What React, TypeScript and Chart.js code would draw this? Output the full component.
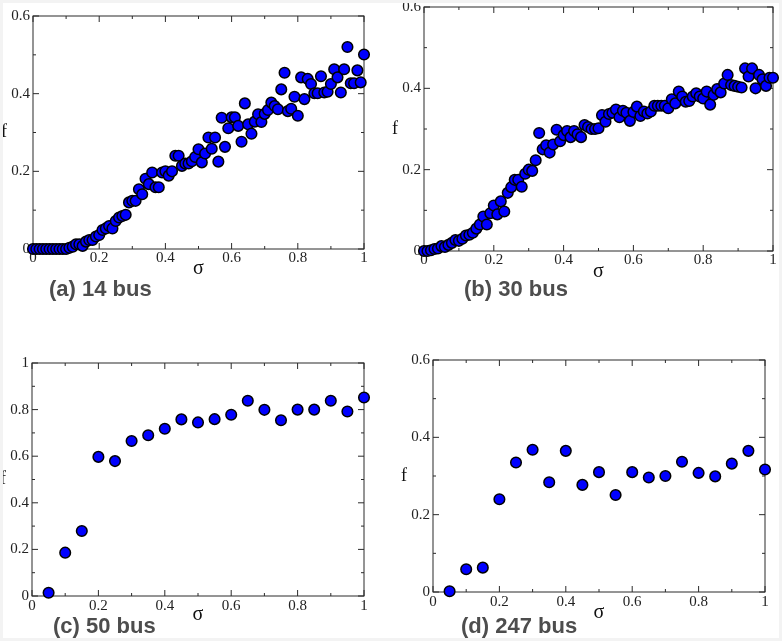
import React, { useEffect, useRef } from "react";
import { Chart, registerables } from "chart.js";

Chart.register(...registerables);

// ---------- data ----------
const SIGMA_FINE = [
  0, 0.01, 0.02, 0.03, 0.04, 0.05, 0.06, 0.07, 0.08, 0.09,
  0.1, 0.11, 0.12, 0.13, 0.14, 0.15, 0.16, 0.17, 0.18, 0.19,
  0.2, 0.21, 0.22, 0.23, 0.24, 0.25, 0.26, 0.27, 0.28, 0.29,
  0.3, 0.31, 0.32, 0.33, 0.34, 0.35, 0.36, 0.37, 0.38, 0.39,
  0.4, 0.41, 0.42, 0.43, 0.44, 0.45, 0.46, 0.47, 0.48, 0.49,
  0.5, 0.51, 0.52, 0.53, 0.54, 0.55, 0.56, 0.57, 0.58, 0.59,
  0.6, 0.61, 0.62, 0.63, 0.64, 0.65, 0.66, 0.67, 0.68, 0.69,
  0.7, 0.71, 0.72, 0.73, 0.74, 0.75, 0.76, 0.77, 0.78, 0.79,
  0.8, 0.81, 0.82, 0.83, 0.84, 0.85, 0.86, 0.87, 0.88, 0.89,
  0.9, 0.91, 0.92, 0.93, 0.94, 0.95, 0.96, 0.97, 0.98, 0.99,
  1,
];

const F_14BUS = [
  0, 0, 0, 0, 0, 0, 0, 0, 0, 0,
  0, 0.003, 0.006, 0.012, 0.012, 0.008, 0.019, 0.023, 0.023, 0.032,
  0.036, 0.049, 0.053, 0.059, 0.053, 0.072, 0.081, 0.085, 0.088, 0.12,
  0.124, 0.124, 0.154, 0.141, 0.181, 0.167, 0.197, 0.159, 0.159, 0.197,
  0.2, 0.189, 0.2, 0.24, 0.24, 0.214, 0.22, 0.22, 0.226, 0.237,
  0.257, 0.223, 0.246, 0.287, 0.258, 0.287, 0.225, 0.338, 0.263, 0.311,
  0.339, 0.339, 0.317, 0.276, 0.375, 0.321, 0.297, 0.328, 0.347, 0.327,
  0.348, 0.358, 0.377, 0.368, 0.36, 0.411, 0.454, 0.355, 0.361, 0.392,
  0.343, 0.442, 0.386, 0.438, 0.425, 0.401, 0.401, 0.445, 0.403, 0.405,
  0.425, 0.463, 0.442, 0.403, 0.463, 0.52, 0.427, 0.427, 0.46, 0.429,
  0.501,
];

const F_30BUS = [
  0, 0, 0.002, 0.005, 0.006, 0.012, 0.01, 0.015, 0.02, 0.027,
  0.025, 0.03, 0.038, 0.04, 0.045, 0.055, 0.065, 0.085, 0.065, 0.093,
  0.112, 0.09, 0.122, 0.097, 0.143, 0.157, 0.175, 0.175, 0.158, 0.19,
  0.2, 0.197, 0.223, 0.29, 0.25, 0.26, 0.242, 0.262, 0.298, 0.27,
  0.285, 0.295, 0.28, 0.295, 0.287, 0.28, 0.31, 0.305, 0.3, 0.3,
  0.302, 0.334, 0.318, 0.337, 0.34, 0.348, 0.329, 0.345, 0.34, 0.32,
  0.342, 0.355, 0.332, 0.343, 0.338, 0.343, 0.357, 0.357, 0.357, 0.357,
  0.351, 0.373, 0.363, 0.392, 0.38, 0.367, 0.369, 0.38, 0.388, 0.38,
  0.375, 0.392, 0.36, 0.384, 0.398, 0.39, 0.412, 0.433, 0.408, 0.406,
  0.404, 0.402, 0.449, 0.429, 0.449, 0.4, 0.433, 0.422, 0.406, 0.426,
  0.426,
];

const SIGMA_COARSE = [
  0.05, 0.1, 0.15, 0.2, 0.25, 0.3, 0.35, 0.4, 0.45, 0.5,
  0.55, 0.6, 0.65, 0.7, 0.75, 0.8, 0.85, 0.9, 0.95, 1,
];

const F_50BUS = [
  0.014, 0.186, 0.279, 0.597, 0.579, 0.665, 0.69, 0.718, 0.758, 0.745,
  0.759, 0.778, 0.838, 0.799, 0.754, 0.8, 0.8, 0.838, 0.792, 0.852,
];

const F_247BUS = [
  0.002, 0.059, 0.063, 0.24, 0.335, 0.368, 0.284, 0.365, 0.277, 0.31,
  0.251, 0.31, 0.296, 0.3, 0.337, 0.308, 0.299, 0.332, 0.365, 0.317,
];

const X_TICKS = [0, 0.2, 0.4, 0.6, 0.8, 1];
const X_MINOR = [0.1, 0.3, 0.5, 0.7, 0.9];
const Y_TICKS_06 = [0, 0.2, 0.4, 0.6];
const Y_MINOR_06 = [0.1, 0.3, 0.5];
const Y_TICKS_1 = [0, 0.2, 0.4, 0.6, 0.8, 1];
const Y_MINOR_1 = [0.1, 0.3, 0.5, 0.7, 0.9];

const CAPTIONS = ["(a) 14 bus", "(b) 30 bus", "(c) 50 bus", "(d) 247 bus"];

// ---------- layout (page coordinates) ----------
type Panel = {
  caption: string;
  sig: number[];
  f: number[];
  yMax: number;
  yTicks: number[];
  yMinor: number[];
  box: { x: number; y: number; w: number; h: number };
  area: { l: number; r: number; t: number; b: number };
  cap: { x: number; y: number };
  sigmaY: number;
  xLabPad: number;
};

const PANELS: Panel[] = [
  {
    caption: CAPTIONS[0], sig: SIGMA_FINE, f: F_14BUS, yMax: 0.6,
    yTicks: Y_TICKS_06, yMinor: Y_MINOR_06,
    box: { x: 0, y: 0, w: 391, h: 320 },
    area: { l: 33, r: 364, t: 16, b: 249 },
    cap: { x: 49, y: 290 }, sigmaY: 269, xLabPad: 0,
  },
  {
    caption: CAPTIONS[1], sig: SIGMA_FINE, f: F_30BUS, yMax: 0.6,
    yTicks: Y_TICKS_06, yMinor: Y_MINOR_06,
    box: { x: 391, y: 0, w: 391, h: 320 },
    area: { l: 424, r: 773, t: 7, b: 251 },
    cap: { x: 464, y: 290 }, sigmaY: 272, xLabPad: 0,
  },
  {
    caption: CAPTIONS[2], sig: SIGMA_COARSE, f: F_50BUS, yMax: 1,
    yTicks: Y_TICKS_1, yMinor: Y_MINOR_1,
    box: { x: 0, y: 320, w: 391, h: 321 },
    area: { l: 32, r: 364, t: 363, b: 596 },
    cap: { x: 53, y: 627 }, sigmaY: 615, xLabPad: 1.5,
  },
  {
    caption: CAPTIONS[3], sig: SIGMA_COARSE, f: F_247BUS, yMax: 0.6,
    yTicks: Y_TICKS_06, yMinor: Y_MINOR_06,
    box: { x: 391, y: 320, w: 391, h: 321 },
    area: { l: 433, r: 765, t: 360, b: 592 },
    cap: { x: 461, y: 627 }, sigmaY: 613, xLabPad: 1.5,
  },
];

const SERIF = "'Liberation Serif', 'Times New Roman', serif";
const SANS = "'Liberation Sans', Arial, sans-serif";

function zeroPad(s: any) {
  s.paddingLeft = 0;
  s.paddingRight = 0;
  s.paddingTop = 0;
  s.paddingBottom = 0;
}

function PanelChart({ p }: { p: Panel }) {
  const ref = useRef<HTMLCanvasElement | null>(null);

  useEffect(() => {
    if (!ref.current) return;
    const L = p.area.l - p.box.x;
    const R = p.area.r - p.box.x;
    const T = p.area.t - p.box.y;
    const B = p.area.b - p.box.y;
    const xH = p.box.h - B;
    const titleSize = 20;
    const titleLH = titleSize * 1.2;
    const titlePadBottom = xH - (p.sigmaY - p.area.b) - titleLH / 2;
    const capX = p.cap.x - p.box.x;
    const capY = p.cap.y - p.box.y;

    const framePlugin = {
      id: "frame" + p.caption,
      beforeDatasetsDraw(chart: any) {
        const { ctx, chartArea: a, scales } = chart;
        const xs = scales.x;
        const ys = scales.y;
        ctx.save();
        ctx.strokeStyle = "#2b2b2b";
        ctx.lineWidth = 1;
        ctx.strokeRect(a.left, a.top, a.right - a.left, a.bottom - a.top);
        ctx.beginPath();
        const xt = (vals: number[], len: number) => {
          vals.forEach((v) => {
            const px = xs.getPixelForValue(v);
            ctx.moveTo(px, a.bottom);
            ctx.lineTo(px, a.bottom - len);
            ctx.moveTo(px, a.top);
            ctx.lineTo(px, a.top + len);
          });
        };
        const yt = (vals: number[], len: number) => {
          vals.forEach((v) => {
            const py = ys.getPixelForValue(v);
            ctx.moveTo(a.left, py);
            ctx.lineTo(a.left + len, py);
            ctx.moveTo(a.right, py);
            ctx.lineTo(a.right - len, py);
          });
        };
        xt(X_TICKS, 6);
        xt(X_MINOR, 3);
        yt(p.yTicks, 6);
        yt(p.yMinor, 3);
        ctx.stroke();
        ctx.restore();
      },
      afterDraw(chart: any) {
        const { ctx, chartArea: a } = chart;
        ctx.save();
        ctx.fillStyle = "#111";
        ctx.font = `18px ${SERIF}`;
        ctx.textAlign = "center";
        ctx.textBaseline = "middle";
        ctx.fillText("f", a.left - 29, (a.top + a.bottom) / 2);
        ctx.fillStyle = "#4d4d4d";
        ctx.font = `bold 22px ${SANS}`;
        ctx.textAlign = "left";
        ctx.fillText(p.caption, capX, capY);
        ctx.restore();
      },
    };

    const chart = new Chart(ref.current, {
      type: "scatter",
      data: {
        datasets: [
          {
            data: p.sig.map((x, i) => ({ x, y: p.f[i] })),
            backgroundColor: "#0000ff",
            borderColor: "#000000",
            borderWidth: 1.5,
            pointRadius: 5.3,
            pointHoverRadius: 5.3,
            clip: false as any,
          },
        ],
      },
      options: {
        animation: false,
        responsive: false,
        maintainAspectRatio: false,
        devicePixelRatio: 1,
        events: [],
        layout: {
          padding: { left: 0, top: T, right: p.box.w - R, bottom: 0 },
        },
        plugins: {
          legend: { display: false },
          tooltip: { enabled: false },
          title: { display: false },
        },
        scales: {
          x: {
            type: "linear",
            position: "bottom",
            min: 0,
            max: 1,
            afterBuildTicks: (s: any) => {
              s.ticks = X_TICKS.map((v) => ({ value: v }));
            },
            afterFit: (s: any) => {
              s.height = xH;
              zeroPad(s);
            },
            grid: { display: false, drawTicks: false },
            border: { display: false },
            ticks: {
              padding: p.xLabPad,
              color: "#222",
              autoSkip: false,
              maxRotation: 0,
              font: { family: SERIF, size: 15 },
              callback: (v: any) => String(v),
            },
            title: {
              display: true,
              text: "σ",
              color: "#111",
              font: { family: SERIF, size: titleSize },
              padding: { top: 0, bottom: titlePadBottom },
            },
          },
          y: {
            type: "linear",
            position: "left",
            min: 0,
            max: p.yMax,
            afterBuildTicks: (s: any) => {
              s.ticks = p.yTicks.map((v) => ({ value: v }));
            },
            afterFit: (s: any) => {
              s.width = L;
              zeroPad(s);
            },
            grid: { display: false, drawTicks: false },
            border: { display: false },
            ticks: {
              padding: 3,
              color: "#222",
              autoSkip: false,
              font: { family: SERIF, size: 15 },
              callback: (v: any) => String(v),
            },
          },
        },
      } as any,
      plugins: [framePlugin],
    });
    return () => chart.destroy();
  }, [p]);

  return (
    <canvas
      ref={ref}
      width={p.box.w}
      height={p.box.h}
      style={{
        position: "absolute",
        left: p.box.x,
        top: p.box.y,
        width: p.box.w,
        height: p.box.h,
      }}
    />
  );
}

export default function App() {
  return (
    <div
      style={{
        position: "absolute",
        left: 0,
        top: 0,
        width: 782,
        height: 641,
        background: "#ffffff",
        overflow: "hidden",
      }}
    >
      {PANELS.map((p) => (
        <PanelChart key={p.caption} p={p} />
      ))}
      <div
        style={{
          position: "absolute",
          left: 0,
          top: 0,
          width: 782,
          height: 641,
          boxSizing: "border-box",
          border: "3px solid #f3f3f3",
          pointerEvents: "none",
        }}
      />
    </div>
  );
}
